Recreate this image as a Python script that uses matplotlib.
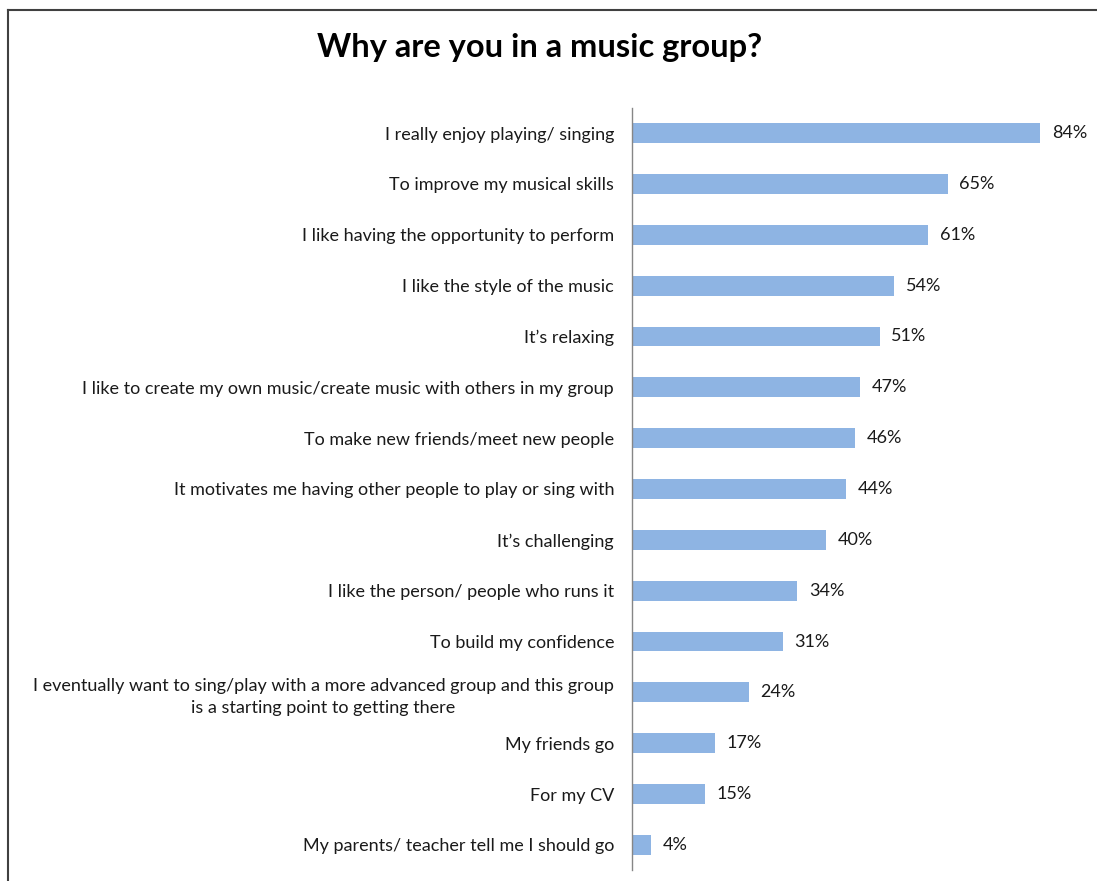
"""Horizontal bar chart: reasons for being in a music group."""

import matplotlib.pyplot as plt
from matplotlib.lines import Line2D

reasons = [
    "I really enjoy playing/ singing",
    "To improve my musical skills",
    "I like having the opportunity to perform",
    "I like the style of the music",
    "It\u2019s relaxing",
    "I like to create my own music/create music with others in my group",
    "To make new friends/meet new people",
    "It motivates me having other people to play or sing with",
    "It\u2019s challenging",
    "I like the person/ people who runs it",
    "To build my confidence",
    "I eventually want to sing/play with a more advanced group and this group\nis a starting point to getting there",
    "My friends go",
    "For my CV",
    "My parents/ teacher tell me I should go",
]
percent = [84, 65, 61, 54, 51, 47, 46, 44, 40, 34, 31, 24, 17, 15, 4]

W, H = 1097, 881
plt.rcParams["font.family"] = ["Lato", "DejaVu Sans"]

fig = plt.figure(figsize=(W / 100, H / 100), dpi=100)

# plot area in pixel terms
left, right, top, bottom = 632, 1097, 107.6, 870.4
ax = fig.add_axes([left / W, 1 - bottom / H, (right - left) / W, (bottom - top) / H])

y = list(range(len(reasons)))
ax.barh(y, percent, height=0.39, color="#8EB4E3", edgecolor="none")
ax.set_ylim(len(reasons) - 0.5, -0.5)
ax.set_xlim(0, (right - left) / 4.857)

for yi, v in zip(y, percent):
    ax.text(v + 2.4, yi, f"{v}%", va="center", ha="left", fontsize=13, color="#1a1a1a")

ax.set_yticks(y)
ax.set_yticklabels(reasons, fontsize=13, color="#1a1a1a")
ax.tick_params(axis="y", length=0, pad=0)
ax.set_xticks([])

for side in ["top", "right", "bottom"]:
    ax.spines[side].set_visible(False)
ax.spines["left"].set_color("#868686")
ax.spines["left"].set_linewidth(1.0)

# right-align labels 18px left of the axis, wrapped one centred on its block
for lbl in ax.get_yticklabels():
    lbl.set_ha("right")
    lbl.set_multialignment("center")
    lbl.set_linespacing(1.45)
    lbl.set_transform(ax.get_yaxis_transform())
    lbl.set_x(-18 / (right - left))

fig.text(540 / W, 1 - 47 / H, "Why are you in a music group?", ha="center", va="center",
         fontsize=23.5, fontweight="bold", color="black")

# outer frame (top and left edges visible)
fig.add_artist(Line2D([8 / W, 1.0], [1 - 10 / H, 1 - 10 / H], transform=fig.transFigure,
                      color="#404040", linewidth=1.5))
fig.add_artist(Line2D([8 / W, 8 / W], [1 - 10 / H, 0], transform=fig.transFigure,
                      color="#404040", linewidth=1.5))

fig.savefig("out.png", dpi=100)
